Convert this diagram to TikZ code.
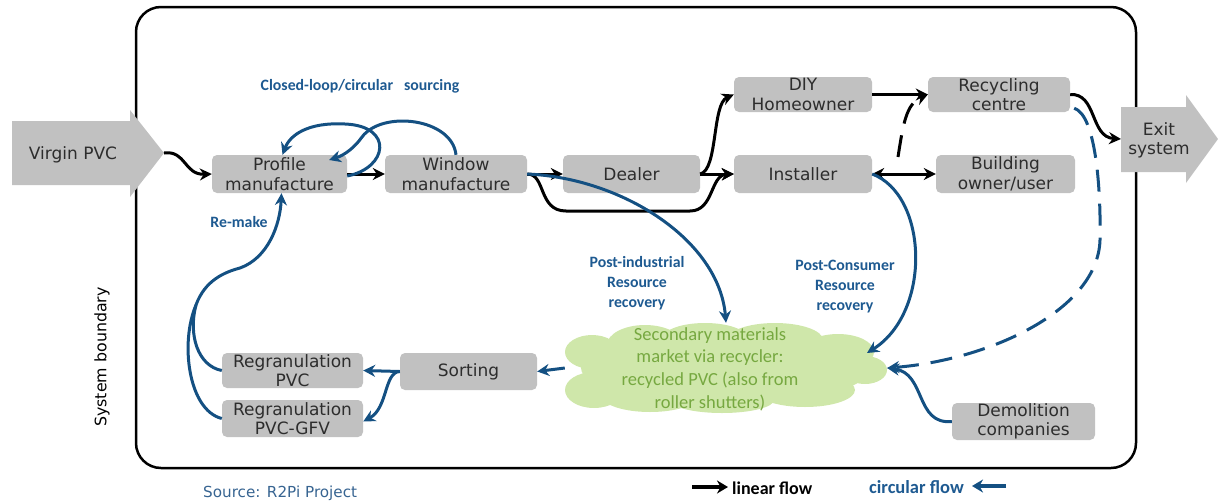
\documentclass[tikz,border=0pt]{standalone}
\usepackage{fontspec}
\setmainfont{DejaVu Sans}
\newfontfamily\carlito{Carlito}
\usetikzlibrary{arrows.meta,calc}
\definecolor{boxgray}{RGB}{193,193,193}
\definecolor{textgray}{RGB}{45,45,45}
\definecolor{flowblue}{RGB}{20,80,130}
\definecolor{labelblue}{RGB}{30,90,145}
\definecolor{cloudgreen}{RGB}{207,231,170}
\definecolor{cloudtext}{RGB}{118,168,64}
\definecolor{sourceblue}{RGB}{55,100,145}
\tikzset{
  stage/.style={fill=boxgray, rounded corners=5pt, inner sep=0pt, align=center,
    text=textgray, font=\fontsize{17}{19.5}\selectfont},
  lin/.style={line width=3pt, black, -{Stealth[length=12pt,width=12pt]}},
  circ/.style={line width=3pt, flowblue, -{Stealth[length=12pt,width=12pt]}},
  flowlabel/.style={align=center, text=labelblue, inner sep=0pt,
    font=\carlito\bfseries\fontsize{15.8}{20}\selectfont},
  bigarrow/.style={fill=boxgray}
}
\begin{document}
\begin{tikzpicture}[x=1pt,y=-1pt]
\useasboundingbox (0,0) rectangle (1218,501);

% system boundary
\draw[line width=2.5pt, rounded corners=25pt] (136,7) rectangle (1136,468);
\node[rotate=90, font=\fontsize{15.8}{18}\selectfont, text=black] (boundary) at (102,357) {System boundary};

% inflow and outflow arrows
\fill[bigarrow] (12,121) -- (130,121) -- (130,110) -- (164,153) -- (130,197) -- (130,185) -- (12,185) -- cycle;
\node[font=\fontsize{17}{19.5}\selectfont, text=textgray] (virgin) at (73,155) {Virgin PVC};
\coordinate (vtip) at (164,153);
\fill[bigarrow] (1121,107) -- (1186,107) -- (1186,95) -- (1218,139) -- (1186,183) -- (1186,172) -- (1121,172) -- cycle;
\node[font=\fontsize{17}{19}\selectfont, text=textgray, align=center] (exit) at (1159,140) {Exit\\system};
\coordinate (exitin) at (1121,139);

% process stages
\node[stage, minimum width=135pt, minimum height=38pt] (profile) at (279.5,174) {Profile\\manufacture};
\node[stage, minimum width=142pt, minimum height=38pt] (window) at (456,174) {Window\\manufacture};
\node[stage, minimum width=137pt, minimum height=38pt] (dealer) at (631.5,174) {Dealer};
\node[stage, minimum width=138pt, minimum height=35pt] (diy) at (803,94.5) {DIY\\Homeowner};
\node[stage, minimum width=138pt, minimum height=38pt] (installer) at (803,174) {Installer};
\node[stage, minimum width=142pt, minimum height=35pt] (recycling) at (999,94.5) {Recycling\\centre};
\node[stage, minimum width=139pt, minimum height=38pt] (building) at (1005.5,174) {Building\\owner/user};
\node[stage, minimum width=141pt, minimum height=35pt] (regpvc) at (292.5,370.5) {Regranulation\\PVC};
\node[stage, minimum width=141pt, minimum height=37pt] (reggfv) at (292.5,418.5) {Regranulation\\PVC-GFV};
\node[stage, minimum width=137pt, minimum height=37pt] (sorting) at (468.5,371.5) {Sorting};
\node[stage, minimum width=143pt, minimum height=37pt] (demolition) at (1023.5,421.5) {Demolition\\companies};

% secondary materials market: a cloud built from overlapping puffs
\fill[cloudgreen]
  (726,368) ellipse [x radius=145, y radius=36]
  (592,352) ellipse [x radius=27, y radius=17]
  (594,390) ellipse [x radius=29, y radius=18]
  (645,345) ellipse [x radius=38, y radius=20]
  (705,338) ellipse [x radius=42, y radius=15]
  (775,340) ellipse [x radius=48, y radius=17]
  (838,352) ellipse [x radius=36, y radius=18]
  (865,370) ellipse [x radius=22, y radius=14]
  (650,396) ellipse [x radius=48, y radius=16]
  (722,400) ellipse [x radius=52, y radius=13]
  (805,390) ellipse [x radius=50, y radius=17];
\node[minimum width=322pt, minimum height=90pt, inner sep=0pt] (cloud) at (726,368) {};
\node[align=center, text=cloudtext, font=\carlito\fontsize{18.5}{22.7}\selectfont] (market) at (710,369)
  {Secondary materials\\market via recycler:\\recycled PVC (also from\\roller shutters)};
\coordinate (pcend) at (867,353);

% linear flows
\draw[lin] (vtip) .. controls (186,150) and (184,175) .. (profile.west);
\draw[lin] (profile.east) -- (window.west);
\draw[lin] (window.east) -- (dealer.west);
\draw[lin] (window.east) .. controls (546,174) and (538,211) .. (566,211) -- (690,211)
      .. controls (714,211) and (710,175) .. (installer.west);
\draw[lin] (dealer.east) -- (installer.west);
\draw[lin] (dealer.east) .. controls (718,170) and (712,104) .. (diy.west);
\draw[lin] (diy.east) -- (recycling.west);
\draw[line width=3pt, {Stealth[length=12pt,width=12pt]}-{Stealth[length=12pt,width=12pt]}] (installer.east) -- (building.west);
\coordinate (dashstart) at (898,157);
\draw[lin, dash pattern=on 22pt off 12pt] (dashstart) .. controls (903,125) and (906,104) .. (recycling.west);
\draw[lin] (recycling.east) .. controls (1097,93) and (1090,137) .. (exitin);

% circular flows
\coordinate (loopend) at (329,160);
\draw[circ] (window.north) .. controls (452,118) and (382,110) .. (362,137)
      .. controls (355,147) and (345,155) .. (loopend);
\draw[circ] ([yshift=-2pt]profile.east) .. controls (388,168) and (394,126) .. (345,124)
      .. controls (308,122) and (290,135) .. ([xshift=3pt]profile.north);
\coordinate (join) at (196,305);
\draw[circ] (regpvc.west) .. controls (198,366) and (188,335) .. (join)
      .. controls (205,280) and (225,272) .. (240,268)
      .. controls (268,258) and (280,225) .. ([xshift=2pt]profile.south);
\draw[line width=3pt, flowblue] (reggfv.west) .. controls (188,410) and (180,342) .. (join);
\draw[circ] (sorting.west) -- (regpvc.east);
\draw[circ] (sorting.west) .. controls (384,372) and (388,408) .. ([yshift=-3pt]reggfv.east);
\draw[circ] (cloud.west) -- (sorting.east);
\draw[circ] (window.east) .. controls (622,178) and (719,240) .. (cloud.north);
\draw[circ] (installer.east) .. controls (928,195) and (932,312) .. (pcend);
\draw[circ, dash pattern=on 22pt off 12pt] ([xshift=4pt,yshift=4pt]recycling.south east) .. controls (1096,115) and (1101,190) .. (1100,240)
      .. controls (1098,310) and (990,360) .. (cloud.east);
\draw[circ] (demolition.west) .. controls (915,425) and (926,373) .. (cloud.east);

% flow labels
\node[flowlabel] (closedloop) at (360,86) {Closed-loop/circular\hspace{0.7em}sourcing};
\node[flowlabel] (remake) at (239,222) {Re-make};
\node[flowlabel] (postind) at (637,283) {Post-industrial\\Resource\\recovery};
\node[flowlabel] (postcon) at (845,287) {Post-Consumer\\Resource\\recovery};

% legend and source
\coordinate (la) at (692,487);
\coordinate (lb) at (728,487);
\draw[line width=4pt, black, -{Stealth[length=11pt,width=13pt]}] (la) -- (lb);
\node[anchor=west, inner sep=0pt, font=\carlito\bfseries\fontsize{18}{20}\selectfont] (linear) at (732,488) {linear flow};
\coordinate (ca) at (1006,486);
\coordinate (cb) at (972,486);
\draw[line width=4pt, flowblue, -{Stealth[length=11pt,width=13pt]}] (ca) -- (cb);
\node[anchor=east, inner sep=0pt, text=labelblue, font=\carlito\bfseries\fontsize{18.5}{20}\selectfont] (circular) at (964,487) {circular flow};
\node[anchor=west, inner sep=0pt, text=sourceblue, font=\fontsize{15.2}{17}\selectfont] (source) at (203,493) {Source: R2Pi Project};
\end{tikzpicture}
\end{document}
